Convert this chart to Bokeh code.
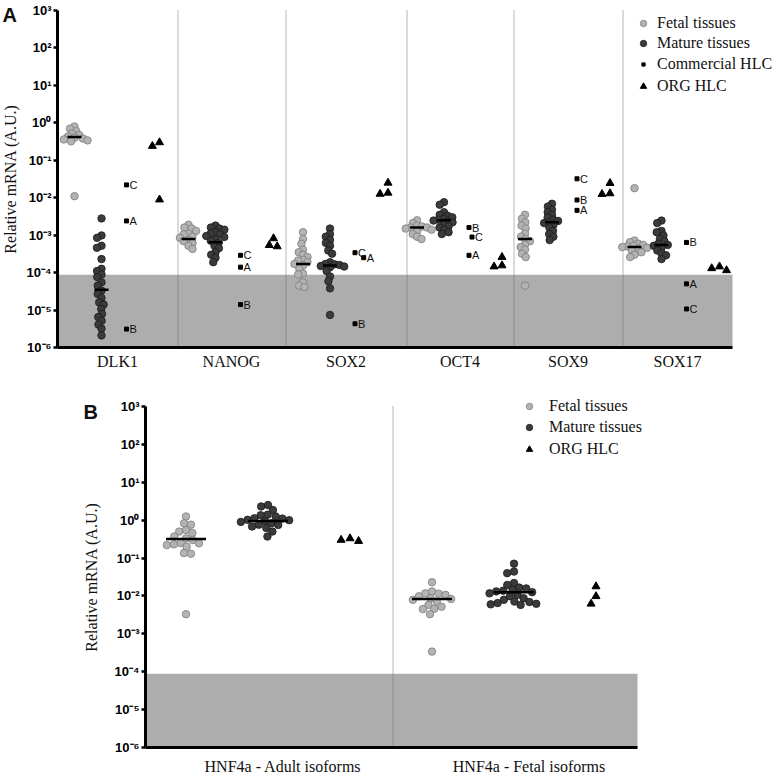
import math
from bokeh.plotting import figure
from bokeh.models import (Range1d, FixedTicker, CustomJSTickFormatter, BoxAnnotation,
                          Legend, LegendItem, Label, LogAxis, LinearAxis)
from bokeh.embed import file_html
from bokeh.resources import INLINE
from bokeh.core.properties import value

# ---------------- data: panel A ----------------
GENES_A = ["DLK1", "NANOG", "SOX2", "OCT4", "SOX9", "SOX17"]
FETAL_A = [
    [0.80, 0.70, 0.60, 0.52, 0.47, 0.43, 0.40, 0.38, 0.36, 0.34, 0.32, 0.011],
    [1.9e-3, 1.6e-3, 1.5e-3, 1.3e-3, 1.1e-3, 1.05e-3, 9.1e-4, 8.5e-4, 7.4e-4, 6.9e-4, 6.2e-4, 5.2e-4, 4.3e-4],
    [1.2e-3, 7.9e-4, 5.9e-4, 4.1e-4, 3.5e-4, 3.0e-4, 2.6e-4, 2.2e-4, 2.1e-4, 1.9e-4, 1.7e-4, 1.55e-4,
     1.26e-4, 9.5e-5, 8.9e-5, 5.5e-5, 4.5e-5, 4.1e-5],
    [2.5e-3, 2.1e-3, 1.8e-3, 1.7e-3, 1.6e-3, 1.6e-3, 1.5e-3, 1.4e-3, 1.26e-3, 1.07e-3, 9.1e-4, 7.9e-4],
    [3.5e-3, 2.75e-3, 2.2e-3, 1.8e-3, 1.5e-3, 1.1e-3, 9.1e-4, 7.9e-4, 6.9e-4, 5.6e-4, 4.8e-4, 4.1e-4,
     3.2e-4, 2.6e-4, 4.5e-5],
    [0.018, 7.2e-4, 6.5e-4, 5.9e-4, 5.5e-4, 5.2e-4, 5.0e-4, 4.8e-4, 4.6e-4, 4.3e-4, 3.9e-4, 3.5e-4,
     3.0e-4, 2.6e-4],
]
MATURE_A = [
    [2.8e-3, 9.8e-4, 8.5e-4, 5.2e-4, 4.6e-4, 2.3e-4, 1.26e-4, 1.1e-4, 8.9e-5, 7.6e-5, 5.5e-5, 4.5e-5,
     3.3e-5, 2.7e-5, 2.1e-5, 1.6e-5, 1.4e-5, 1.07e-5, 7.9e-6, 6.5e-6, 5.2e-6, 4.1e-6, 3.2e-6, 2.1e-6],
    [1.8e-3, 1.6e-3, 1.5e-3, 1.4e-3, 1.2e-3, 1.1e-3, 1.05e-3, 9.5e-4, 8.9e-4, 7.9e-4, 7.1e-4, 6.2e-4,
     5.2e-4, 4.5e-4, 3.5e-4, 3.0e-4, 2.5e-4, 1.9e-4],
    [1.5e-3, 1.07e-3, 9.1e-4, 7.4e-4, 6.2e-4, 5.2e-4, 3.9e-4, 3.2e-4, 1.9e-4, 1.7e-4, 1.66e-4, 1.6e-4,
     1.5e-4, 1.45e-4, 1.38e-4, 1.1e-4, 7.9e-5, 5.9e-5, 3.8e-5, 7.4e-6],
    [7.6e-3, 6.5e-3, 4.1e-3, 3.5e-3, 3.3e-3, 3.0e-3, 2.75e-3, 2.6e-3, 2.45e-3, 2.3e-3, 2.2e-3, 1.9e-3,
     1.7e-3, 1.6e-3, 1.4e-3, 1.2e-3, 1.07e-3],
    [6.9e-3, 5.8e-3, 4.8e-3, 4.1e-3, 3.5e-3, 3.0e-3, 2.6e-3, 2.4e-3, 2.2e-3, 2.1e-3, 1.9e-3, 1.6e-3,
     1.3e-3, 1.07e-3, 9.1e-4, 7.4e-4],
    [2.45e-3, 2.1e-3, 1.3e-3, 1.2e-3, 9.8e-4, 7.9e-4, 6.9e-4, 5.9e-4, 5.5e-4, 5.2e-4, 4.6e-4, 3.9e-4,
     3.3e-4, 2.9e-4, 2.3e-4],
]
FETAL_MEDIAN_A = [0.42, 7.9e-4, 1.7e-4, 1.6e-3, 7.9e-4, 4.8e-4]
MATURE_MEDIAN_A = [3.5e-5, 6.5e-4, 1.55e-4, 2.5e-3, 2.2e-3, 5.5e-4]
COMMERCIAL_LABELS = ["A", "B", "C"]
COMMERCIAL_A = [
    [2.4e-3, 3.1e-6, 0.022],
    [1.4e-4, 1.4e-5, 2.9e-4],
    [2.5e-4, 4.3e-6, 3.4e-4],
    [2.9e-4, 1.6e-3, 8.9e-4],
    [4.6e-3, 8.7e-3, 0.032],
    [5.0e-5, 6.4e-4, 1.07e-5],
]
ORG_A = [
    [0.30, 0.24, 0.0089],
    [8.2e-4, 5.4e-4, 5.0e-4],
    [0.025, 0.0135, 0.0126],
    [2.6e-4, 1.55e-4, 1.45e-4],
    [0.0245, 0.013, 0.0125],
    [1.45e-4, 1.3e-4, 1.15e-4],
]

# ---------------- data: panel B ----------------
CATS_B = ["HNF4a - Adult isoforms", "HNF4a - Fetal isoforms"]
FETAL_B = [
    [1.25, 0.83, 0.76, 0.55, 0.50, 0.46, 0.37, 0.33, 0.30, 0.25, 0.245, 0.23, 0.22, 0.20, 0.135, 0.13, 0.0033],
    [0.023, 0.0132, 0.0117, 0.0115, 0.0107, 0.0098, 0.0087, 0.0083, 0.0079, 0.0071, 0.0058, 0.0052,
     0.0046, 0.0045, 0.0033, 0.00034],
]
MATURE_B = [
    [2.5, 2.3, 1.85, 1.4, 1.35, 1.25, 1.12, 1.1, 1.02, 1.0, 0.95, 0.9, 0.83, 0.76, 0.75, 0.68, 0.62, 0.5, 0.37],
    [0.071, 0.044, 0.040, 0.022, 0.0195, 0.0166, 0.0158, 0.0145, 0.0138, 0.0132, 0.0126, 0.0117, 0.0107,
     0.0098, 0.0087, 0.0079, 0.0071, 0.0069, 0.0065, 0.0062, 0.0060, 0.0058],
]
ORG_B = [[0.33, 0.28, 0.30], [0.0178, 0.0098, 0.0062]]
FETAL_MEDIAN_B = [0.32, 0.0083]
MATURE_MEDIAN_B = [0.95, 0.0126]

DETECTION_LIMIT = 8.8e-5
Y_MIN, Y_MAX = 1e-6, 1e3
Y_TICKS = [1e-6, 1e-5, 1e-4, 1e-3, 1e-2, 1e-1, 1e0, 1e1, 1e2, 1e3]

# ---------------- layout / style constants (pixels) ----------------
W = 777
# panel A: canvas height, pixel row of 10^3 and 10^-6, pixel column of the y axis
HA, TA, BA, AXA = 380, 10, 347, 57
EDGES_A = [0, 120, 228, 349, 456, 565, 675]
OFF_A = dict(fetal=-43, mature=-16, comm=9, org=42)
LEG_A = dict(cx=643, tx=657, rows=[23, 43, 64, 86])
# panel B
HB, TB, BB, AXB = 394, 26, 367, 145
EDGES_B = [0, 247, 492]
OFF_B = dict(fetal=-83, mature=-1, org=81)
LABEL_SHIFT_B = 14
LEG_B = dict(cx=529, tx=549, rows=[26, 47, 69])

FETAL_FILL, FETAL_LINE = "#b3b3b3", "#7c7c7c"
MATURE_FILL, MATURE_LINE = "#3b3b3b", "#1c1c1c"
BAND = "#adadad"
SERIF = "Liberation Serif"
SANS = "Liberation Sans"

SUP_JS = """
const sup = {"0":"\u2070","1":"\u00b9","2":"\u00b2","3":"\u00b3","4":"\u2074","5":"\u2075",
             "6":"\u2076","7":"\u2077","8":"\u2078","9":"\u2079","-":"\u207b"};
const e = Math.round(Math.log10(tick));
return "10" + String(e).split("").map(c => sup[c]).join("");
"""
CAT_JS = """
let best = 0;
for (let i = 0; i < pos.length; i++) {
  if (Math.abs(pos[i] - tick) < Math.abs(pos[best] - tick)) best = i;
}
return names[best];
"""


def swarm(vals, d, ppd, prefer_right=False):
    ys = [math.log10(v) * ppd for v in vals]
    order = sorted(range(len(vals)), key=lambda i: -ys[i])
    placed, xs = [], [0.0] * len(vals)
    for i in order:
        y = ys[i]
        cands = [0.0]
        for px, py in placed:
            dy = abs(py - y)
            if dy < d:
                dx = math.sqrt(d * d - dy * dy)
                cands += [px + dx, px - dx]
        if prefer_right:
            cands.sort(key=lambda c: (round(abs(c), 6), -c))
        else:
            cands.sort(key=lambda c: (round(abs(c), 6), c))
        for c in cands:
            if all((c - px) ** 2 + (y - py) ** 2 >= d * d - 1e-6 for px, py in placed):
                xs[i] = c
                break
        placed.append((xs[i], y))
    return xs


def make_fig(H, top_px, bot_px, axis_px, x_end, centers, names, title_standoff, label_standoff):
    ppd = (bot_px - top_px) / 9.0
    top_log = 3 + top_px / ppd
    bot_log = -6 - (H - bot_px) / ppd
    p = figure(width=W, height=H, x_range=Range1d(-axis_px, W - axis_px),
               y_range=Range1d(10 ** bot_log, 10 ** top_log), y_axis_type="log",
               x_axis_location=None, y_axis_location=None,
               output_backend="svg", toolbar_location=None,
               min_border=0, min_border_left=0, min_border_right=0,
               min_border_top=0, min_border_bottom=0)
    p.xgrid.visible = False
    p.ygrid.visible = False
    p.outline_line_color = None
    p.background_fill_color = "white"
    p.border_fill_color = "white"

    ya = LogAxis(fixed_location=0, bounds=(Y_MIN, Y_MAX), ticker=FixedTicker(ticks=Y_TICKS),
                 formatter=CustomJSTickFormatter(code=SUP_JS))
    ya.axis_line_width = 3
    ya.axis_line_color = "black"
    ya.major_tick_line_width = 2.5
    ya.major_tick_out = 4
    ya.major_tick_in = 0
    ya.minor_tick_line_color = None
    ya.major_label_standoff = 2
    ya.major_label_text_font = SANS
    ya.major_label_text_font_style = "bold"
    ya.major_label_text_font_size = "13px"
    ya.major_label_text_color = "black"
    ya.axis_label = "Relative mRNA (A.U.)"
    ya.axis_label_text_font = SERIF
    ya.axis_label_text_font_style = "normal"
    ya.axis_label_text_font_size = "16px"
    ya.axis_label_text_color = "#111111"
    ya.axis_label_standoff = title_standoff
    p.add_layout(ya, "left")

    xa = LinearAxis(fixed_location=Y_MIN, bounds=(0, x_end), ticker=FixedTicker(ticks=centers),
                    formatter=CustomJSTickFormatter(args=dict(pos=centers, names=names), code=CAT_JS))
    xa.axis_line_width = 3
    xa.axis_line_color = "black"
    xa.major_tick_line_color = None
    xa.minor_tick_line_color = None
    xa.major_tick_out = 0
    xa.major_tick_in = 0
    xa.major_label_standoff = label_standoff
    xa.major_label_text_font = SERIF
    xa.major_label_text_font_size = "16px"
    xa.major_label_text_color = "#111111"
    p.add_layout(xa, "below")

    p.add_layout(BoxAnnotation(left=0, right=x_end, bottom=Y_MIN, top=DETECTION_LIMIT,
                               fill_color=BAND, fill_alpha=1.0, line_color=None, level="underlay"))
    return p, ppd, top_log


def add_dividers(p, edges):
    xs = [e + 0.5 for e in edges[1:-1]]
    p.segment(x0=xs, y0=[Y_MIN] * len(xs), x1=xs, y1=[Y_MAX] * len(xs),
              line_color="#6e6e6e", line_width=1, line_dash="1 1")


def legend_rows(p, H, spec, entries):
    """One single-row legend per entry so each glyph can have its own size."""
    for (label, rend, g), row_c in zip(entries, spec["rows"]):
        half = g // 2
        p.add_layout(Legend(
            items=[LegendItem(label=label, renderers=[rend])],
            location=(int(spec["cx"] - half), int(H - row_c - 10)), padding=0, margin=0,
            glyph_width=int(g), glyph_height=20, label_height=20,
            label_standoff=int(spec["tx"] - (spec["cx"] + half)),
            border_line_color=None, background_fill_alpha=0,
            label_text_font=SERIF, label_text_font_size="16px", label_text_color="#111111"))


# ================= Panel A =================
centers_A = [(EDGES_A[i] + EDGES_A[i + 1]) / 2 for i in range(len(GENES_A))]
pA, PPD_A, TOPLOG_A = make_fig(HA, TA, BA, AXA, EDGES_A[-1], centers_A, GENES_A, 5, 5)
add_dividers(pA, EDGES_A)

fx, fy, mx, my, cx, cy, ct, ox, oy = [], [], [], [], [], [], [], [], []
for i in range(len(GENES_A)):
    c = centers_A[i]
    for v, dx in zip(FETAL_A[i], swarm(FETAL_A[i], 5.0, PPD_A)):
        fx.append(c + OFF_A["fetal"] + dx); fy.append(v)
    for v, dx in zip(MATURE_A[i], swarm(MATURE_A[i], 5.0, PPD_A)):
        mx.append(c + OFF_A["mature"] + dx); my.append(v)
    for v, lab, dx in zip(COMMERCIAL_A[i], COMMERCIAL_LABELS,
                          swarm(COMMERCIAL_A[i], 10.0, PPD_A, prefer_right=True)):
        cx.append(c + OFF_A["comm"] + dx); cy.append(v); ct.append(lab)
    for v, dx in zip(ORG_A[i], swarm(ORG_A[i], 8.0, PPD_A)):
        ox.append(c + OFF_A["org"] + dx); oy.append(v)

rf = pA.scatter(fx, fy, marker="circle", size=7.5, fill_color=FETAL_FILL,
                line_color=FETAL_LINE, line_width=0.8)
rm = pA.scatter(mx, my, marker="circle", size=7.5, fill_color=MATURE_FILL,
                line_color=MATURE_LINE, line_width=0.8)
rc = pA.scatter(cx, cy, marker="square", size=4, fill_color="black", line_color="black")
pA.text(cx, cy, text=ct, x_offset=3, text_baseline="middle", text_align="left",
        text_font=value(SANS), text_font_size="11px", text_color="#111111")
ro = pA.scatter(ox, oy, marker="triangle", size=8, fill_color="black", line_color="black")
pA.scatter([c + OFF_A["fetal"] for c in centers_A], FETAL_MEDIAN_A, marker="dash",
           size=14, line_width=2.5, line_color="black")
pA.scatter([c + OFF_A["mature"] for c in centers_A], MATURE_MEDIAN_A, marker="dash",
           size=14, line_width=2.5, line_color="black")

legend_rows(pA, HA, LEG_A, [("Fetal tissues", rf, 16), ("Mature tissues", rm, 16),
                            ("Commercial HLC", rc, 8), ("ORG HLC", ro, 16)])
pA.add_layout(Label(x=2 - AXA, y=10 ** (TOPLOG_A - 3 / PPD_A), text="A", text_font=SANS,
                    text_font_style="bold", text_font_size="20px", text_baseline="top",
                    text_align="left", text_color="#111111"))

# ================= Panel B =================
centers_B = [(EDGES_B[i] + EDGES_B[i + 1]) / 2 for i in range(len(CATS_B))]
pB, PPD_B, TOPLOG_B = make_fig(HB, TB, BB, AXB, EDGES_B[-1],
                               [c + LABEL_SHIFT_B for c in centers_B], CATS_B, 12, 10)
add_dividers(pB, EDGES_B)

bfx, bfy, bmx, bmy, box_, boy = [], [], [], [], [], []
for i in range(len(CATS_B)):
    c = centers_B[i]
    for v, dx in zip(FETAL_B[i], swarm(FETAL_B[i], 7.0, PPD_B)):
        bfx.append(c + OFF_B["fetal"] + dx); bfy.append(v)
    for v, dx in zip(MATURE_B[i], swarm(MATURE_B[i], 7.0, PPD_B)):
        bmx.append(c + OFF_B["mature"] + dx); bmy.append(v)
    for v, dx in zip(ORG_B[i], swarm(ORG_B[i], 9.0, PPD_B)):
        box_.append(c + OFF_B["org"] + dx); boy.append(v)

rbf = pB.scatter(bfx, bfy, marker="circle", size=7.5, fill_color=FETAL_FILL,
                 line_color=FETAL_LINE, line_width=0.8)
rbm = pB.scatter(bmx, bmy, marker="circle", size=7.5, fill_color=MATURE_FILL,
                 line_color=MATURE_LINE, line_width=0.8)
rbo = pB.scatter(box_, boy, marker="triangle", size=8, fill_color="black", line_color="black")
pB.scatter([c + OFF_B["fetal"] for c in centers_B], FETAL_MEDIAN_B, marker="dash",
           size=40, line_width=2.5, line_color="black")
pB.scatter([c + OFF_B["mature"] for c in centers_B], MATURE_MEDIAN_B, marker="dash",
           size=40, line_width=2.5, line_color="black")

legend_rows(pB, HB, LEG_B, [("Fetal tissues", rbf, 16), ("Mature tissues", rbm, 16),
                            ("ORG HLC", rbo, 16)])
pB.add_layout(Label(x=83 - AXB, y=10 ** (TOPLOG_B - 20 / PPD_B), text="B", text_font=SANS,
                    text_font_style="bold", text_font_size="20px", text_baseline="top",
                    text_align="left", text_color="#111111"))

open("out.html", "w").write(file_html([pA, pB], INLINE))
